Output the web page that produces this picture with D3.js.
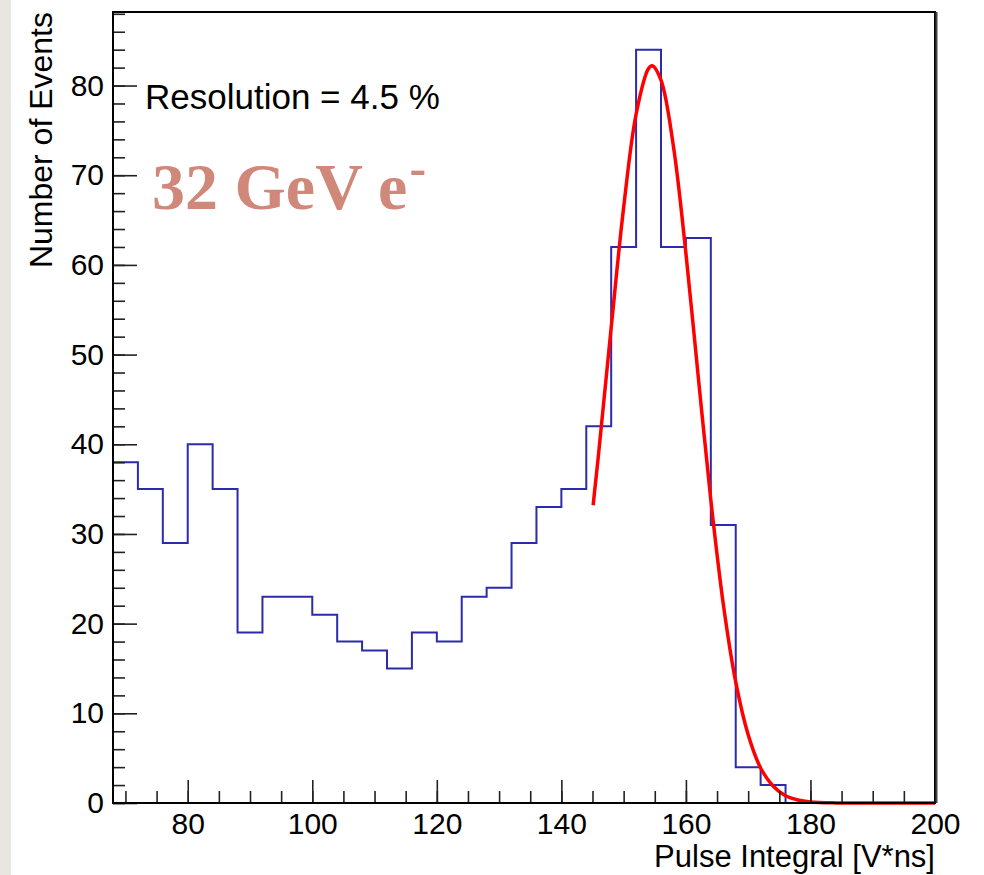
<!DOCTYPE html>
<meta charset="utf-8">
<style>
body { margin: 0; background: #fff; }
text { font-family: "Liberation Sans", Arial, Helvetica, sans-serif; }
.axis text { font-size: 30px; fill: #000; }
.axis line { stroke: #222; stroke-width: 1.6; }
</style>
<svg width="984" height="875"></svg>
<script src="https://d3js.org/d3.v7.min.js"></script>
<script>

// histogram: bin lower edges (width 4) and counts
var binEdges = [68,72,76,80,84,88,92,96,100,104,108,112,116,120,124,128,132,136,140,144,148,152,156,160,164,168,172,176,180,184,188,192,196];
var counts   = [38,35,29,40,35,19,23,23,21,18,17,15,19,18,23,24,29,33,35,42,62,84,62,63,31,4,2,0,0,0,0,0,0];

// gaussian fit curve
var fitX = [145.1,146,148,150,152,154,154.6,156,158,160,162,164,166,168,170,172,174,176,178,180,184,190,200];
var fitY = [33.2,39.1,53.0,66.4,76.8,81.9,82.2,80.6,73.2,61.3,47.4,33.8,22.2,13.5,7.6,3.9,1.9,0.8,0.33,0.12,0.01,0,0];

var xMajor = [80,100,120,140,160,180,200];
var yMajor = [0,10,20,30,40,50,60,70,80];

var svg = d3.select("svg"),
    fL = 113, fR = 935, fT = 12, fB = 803;

var x = d3.scaleLinear().domain([68, 200]).range([fL, fR]);
var y = d3.scaleLinear().domain([0, 88.2]).range([fB, fT]);

// textured strip on the left
svg.append("rect").attr("x", 0).attr("y", 0).attr("width", 11).attr("height", 875).attr("fill", "#e9e6e1");

// histogram steps
var histPts = binEdges.map((e, i) => [e, counts[i]]);
histPts.push([200, counts[counts.length - 1]]);
svg.append("path")
    .attr("d", d3.line().x(d => x(d[0])).y(d => y(d[1])).curve(d3.curveStepAfter)(histPts))
    .attr("fill", "none")
    .attr("stroke", "#2b2bab")
    .attr("stroke-width", 2);

// fit
svg.append("path")
    .attr("d", d3.line().x(d => x(d[0])).y(d => y(d[1])).curve(d3.curveCatmullRom)(fitX.map((v, i) => [v, fitY[i]])))
    .attr("fill", "none")
    .attr("stroke", "#ff0000")
    .attr("stroke-width", 3.5);

// axes (ticks pointing inward)
var yAx = svg.append("g").attr("class", "axis").attr("transform", "translate(" + fL + ",0)");
yAx.call(d3.axisLeft(y).tickValues(d3.range(0, 89, 2)).tickFormat("").tickSizeInner(-12).tickSizeOuter(0));
yAx.append("g").call(d3.axisLeft(y).tickValues(yMajor).tickSizeInner(-24).tickSizeOuter(0).tickPadding(9));
yAx.selectAll(".domain").remove();

var xAx = svg.append("g").attr("class", "axis").attr("transform", "translate(0," + fB + ")");
xAx.call(d3.axisBottom(x).tickValues(d3.range(70, 200, 5)).tickFormat("").tickSizeInner(-12).tickSizeOuter(0));
xAx.append("g").call(d3.axisBottom(x).tickValues(xMajor).tickSizeInner(-23).tickSizeOuter(0).tickPadding(10));
xAx.selectAll(".domain").remove();
svg.selectAll(".axis text").style("font-family", '"Liberation Sans", Arial, sans-serif');

// frame
svg.append("rect")
    .attr("x", fL).attr("y", fT).attr("width", fR - fL).attr("height", fB - fT)
    .attr("fill", "none").attr("stroke", "#000").attr("stroke-width", 2);
svg.append("line").attr("x1", fR + 1.5).attr("x2", fR + 1.5).attr("y1", fT).attr("y2", fB)
    .attr("stroke", "#444").attr("stroke-width", 2);

// axis titles
svg.append("text")
    .attr("transform", "translate(52," + fT + ") rotate(-90)")
    .attr("text-anchor", "end")
    .style("font-size", "32px")
    .text("Number of Events");

svg.append("text")
    .attr("x", fR).attr("y", 867)
    .attr("text-anchor", "end")
    .style("font-size", "31px")
    .text("Pulse Integral [V*ns]");

// annotations
svg.append("text")
    .attr("x", 145).attr("y", 109)
    .style("font-size", "35px")
    .text("Resolution = 4.5 %");

var lab = svg.append("text")
    .attr("x", 152).attr("y", 209)
    .style("font-family", '"Liberation Serif", "Times New Roman", serif')
    .style("font-weight", "bold")
    .style("font-size", "66px")
    .attr("fill", "#d0887a")
    .text("32 GeV e");
lab.append("tspan").attr("dx", 2).attr("dy", -24).style("font-size", "50px").text("-");

</script>
